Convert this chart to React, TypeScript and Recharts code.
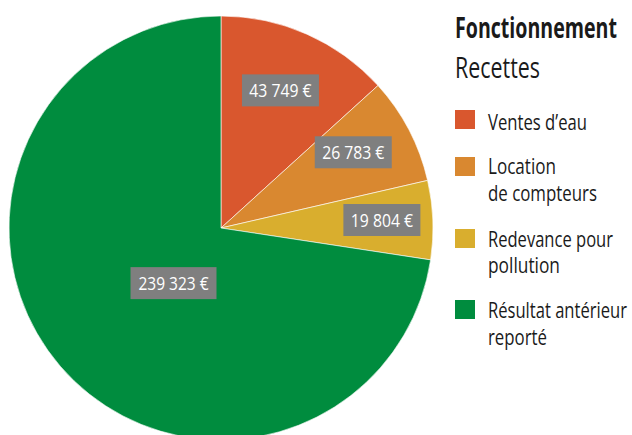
import { PieChart, Pie, Cell, Legend } from 'recharts';

const title = 'Fonctionnement';
const subtitle = 'Recettes';
const categories = ['Ventes d’eau', 'Location\nde compteurs', 'Redevance pour\npollution', 'Résultat antérieur\nreporté'];
const amounts = [43749, 26783, 19804, 239323];
const valueLabels = ['43 749 €', '26 783 €', '19 804 €', '239 323 €'];
const colors = ['#d9572e', '#d98830', '#d9ae2e', '#008c3e'];

const FONT = "'Open Sans', 'DejaVu Sans', sans-serif";
const INK = '#1a1a1a';

const data = categories.map((name, i) => ({ name, value: amounts[i], label: valueLabels[i] }));

// value label placement: fraction of outer radius plus a small pixel nudge
const labelRadius = [0.71, 0.72, 0.75, 0.37];
const labelShift = [[-1.5, 0], [-3, -5], [2, -2], [12, 4]];

// legend layout (offset from legend origin x=445)
const LX = 445;
const itemTop = [110, 157, 229, 300];
const lineBase = [[130], [174, 201], [247, 273], [318, 345]];
const lineWidth = [[99], [68, 109], [125, 72], [139, 59]];

const RADIAN = Math.PI / 180;

function renderLabel(props: any) {
  const { cx, cy, midAngle, outerRadius, index } = props;
  const r = outerRadius * labelRadius[index];
  const x = cx + r * Math.cos(-midAngle * RADIAN) + labelShift[index][0];
  const y = cy + r * Math.sin(-midAngle * RADIAN) + labelShift[index][1];
  const text = valueLabels[index];
  const w = text.length * 9 + 5;
  const h = 32;
  return (
    <g key={`lbl-${index}`}>
      <rect x={x - w / 2} y={y - h / 2} width={w} height={h} fill="#7f7f7f" />
      <text
        x={x}
        y={y + 7}
        fill="#fff"
        fontSize={19}
        fontFamily={FONT}
        textAnchor="middle"
        textLength={text.length * 7.9 - 1}
        lengthAdjust="spacingAndGlyphs"
      >
        {text}
      </text>
    </g>
  );
}

function LegendBox() {
  return (
    <svg width={187} height={360} style={{ display: 'block', overflow: 'visible' }}>
      <text x={455 - LX} y={38} fontFamily={FONT} fontWeight={700} fontSize={29} fill={INK} textLength={162} lengthAdjust="spacingAndGlyphs">
        {title}
      </text>
      <text x={455 - LX} y={78} fontFamily={FONT} fontSize={29} fill={INK} textLength={85} lengthAdjust="spacingAndGlyphs">
        {subtitle}
      </text>
      {categories.map((c, i) => (
        <g key={c}>
          <rect x={455 - LX} y={itemTop[i]} width={20} height={19} fill={colors[i]} />
          {c.split('\n').map((line, j) => (
            <text
              key={line}
              x={488 - LX}
              y={lineBase[i][j]}
              fontFamily={FONT}
              fontSize={21}
              fill={INK}
              textLength={lineWidth[i][j]}
              lengthAdjust="spacingAndGlyphs"
            >
              {line}
            </text>
          ))}
        </g>
      ))}
    </svg>
  );
}

export default function App() {
  return (
    <div style={{ position: 'absolute', left: 0, top: 0, width: 632, height: 435, background: '#fff', overflow: 'hidden' }}>
      <PieChart width={632} height={435} margin={{ top: 0, right: 0, bottom: 0, left: 0 }}>
        <Pie
          data={data}
          dataKey="value"
          nameKey="name"
          cx={221}
          cy={228}
          outerRadius={212}
          startAngle={90}
          endAngle={-270}
          stroke="#ffffff"
          strokeWidth={0.6}
          label={renderLabel}
          labelLine={false}
          isAnimationActive={false}
        >
          {data.map((d, i) => (
            <Cell key={d.name} fill={colors[i]} />
          ))}
        </Pie>
        <Legend
          layout="vertical"
          verticalAlign="top"
          align="right"
          content={() => <LegendBox />}
          wrapperStyle={{ left: LX, top: 0, width: 187 }}
        />
      </PieChart>
    </div>
  );
}
